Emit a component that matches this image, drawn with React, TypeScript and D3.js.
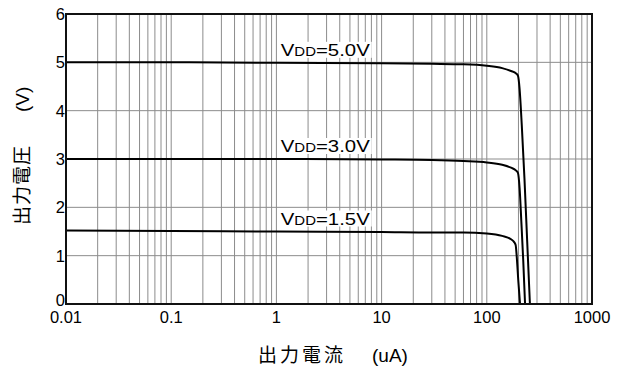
import * as d3 from 'd3';

// data (x = output current in uA, y = output voltage in V)
const current50 = [0.01, 0.1, 1, 10, 30, 60, 100, 140, 170, 190, 198, 205, 215, 228, 242, 257];
const volt50 = [5.0, 5.0, 4.99, 4.98, 4.97, 4.96, 4.93, 4.88, 4.82, 4.77, 4.72, 4.45, 3.7, 2.6, 1.3, 0];

const current30 = [0.01, 0.1, 1, 10, 30, 60, 100, 140, 170, 190, 198, 205, 213, 222, 231];
const volt30 = [3.0, 3.0, 3.0, 2.99, 2.98, 2.96, 2.93, 2.88, 2.82, 2.76, 2.71, 2.4, 1.7, 0.9, 0];

const current15 = [0.01, 0.1, 1, 10, 30, 60, 100, 140, 170, 182, 188, 193, 199, 207];
const volt15 = [1.52, 1.51, 1.5, 1.49, 1.48, 1.48, 1.46, 1.41, 1.34, 1.28, 1.22, 0.95, 0.5, 0];

const seriesNames = ['5.0V', '3.0V', '1.5V'];
const labelAt = [1.1, 1.1, 1.1];

const xTicks = [0.01, 0.1, 1, 10, 100, 1000];
const xTickLabels = ['0.01', '0.1', '1', '10', '100', '1000'];
const yTicks = [0, 1, 2, 3, 4, 5, 6];

const margin = { top: 14, right: 25, bottom: 65, left: 66 };
const width = 617;
const height = 369;

const App = () => {
  const x = d3.scaleLog()
    .domain([0.01, 1000])
    .range([margin.left, width - margin.right]);
  const y = d3.scaleLinear()
    .domain([0, 6])
    .range([height - margin.bottom, margin.top]);

  const series = [
    { name: seriesNames[0], xs: current50, ys: volt50 },
    { name: seriesNames[1], xs: current30, ys: volt30 },
    { name: seriesNames[2], xs: current15, ys: volt15 },
  ];

  const line = d3.line<[number, number]>()
    .x(d => x(d[0]))
    .y(d => y(d[1]))
    .curve(d3.curveMonotoneX);

  // minor log grid lines (2..9 each decade)
  const minor: number[] = [];
  for (let e = -2; e < 3; e++) {
    for (let m = 2; m <= 9; m++) minor.push(m * Math.pow(10, e));
  }

  const font = '"Liberation Sans", Arial, sans-serif';
  const cjk = '"Noto Sans CJK JP", "Noto Sans CJK SC", sans-serif';

  return (
    <div style={{ position: 'absolute', left: 0, top: 0 }}>
      <svg width={width} height={height} style={{ display: 'block', background: '#fff' }}>
        {/* vertical grid */}
        <g stroke="#8c8c8c" strokeWidth={1}>
          {minor.map((v, i) => (
            <line key={'m' + i} x1={x(v)} x2={x(v)} y1={y(6)} y2={y(0)} />
          ))}
          {xTicks.map((v, i) => (
            <line key={'M' + i} x1={x(v)} x2={x(v)} y1={y(6)} y2={y(0)} />
          ))}
          {yTicks.map((v, i) => (
            <line key={'h' + i} x1={x(0.01)} x2={x(1000)} y1={y(v)} y2={y(v)} />
          ))}
        </g>

        {/* curve labels with white background */}
        {series.map((s, i) => {
          const lx = x(labelAt[i]);
          const idx = d3.bisectLeft(s.xs, labelAt[i]);
          const ly = y(s.ys[Math.max(0, idx - 1)]) - 7;
          return (
            <g key={'lab' + i}>
              <rect x={lx - 3} y={ly - 14} width={94} height={16} fill="#fff" />
              <text
                x={lx}
                y={ly}
                fontFamily={font}
                fontSize={17}
                textLength={89}
                lengthAdjust="spacingAndGlyphs"
                fill="#000"
              >
                V<tspan fontSize={12.5}>DD</tspan>={s.name}
              </text>
            </g>
          );
        })}

        {/* curves */}
        {series.map((s, i) => (
          <path
            key={'c' + i}
            d={line(s.xs.map((v, j) => [v, s.ys[j]] as [number, number])) || ''}
            fill="none"
            stroke="#000"
            strokeWidth={2}
          />
        ))}

        {/* frame */}
        <rect
          x={x(0.01)}
          y={y(6)}
          width={x(1000) - x(0.01)}
          height={y(0) - y(6)}
          fill="none"
          stroke="#111"
          strokeWidth={2}
        />

        {/* x tick labels */}
        {xTicks.map((v, i) => (
          <text
            key={'xt' + i}
            x={x(v)}
            y={y(0) + 19}
            textAnchor="middle"
            fontFamily={font}
            fontSize={16.5}
            fill="#000"
          >
            {xTickLabels[i]}
          </text>
        ))}

        {/* y tick labels */}
        {yTicks.map((v, i) => (
          <text
            key={'yt' + i}
            x={x(0.01) - 1}
            y={y(v) + (v === 0 ? 2 : 6)}
            textAnchor="end"
            fontFamily={font}
            fontSize={16.5}
            fill="#000"
          >
            {v}
          </text>
        ))}

        {/* axis titles */}
        <text x={258} y={362} fontFamily={cjk} fontSize={19} fill="#000">
          <tspan letterSpacing={3}>出力電流</tspan>
          <tspan x={372} fontFamily={font}>(uA)</tspan>
        </text>
        <g transform="translate(29, 225) rotate(-90)">
          <text x={0} y={0} fontFamily={cjk} fontSize={19} fill="#000">
            <tspan letterSpacing={1}>出力電圧</tspan>
            <tspan x={113} fontFamily={font}>(V)</tspan>
          </text>
        </g>
      </svg>
    </div>
  );
};

export default App;
